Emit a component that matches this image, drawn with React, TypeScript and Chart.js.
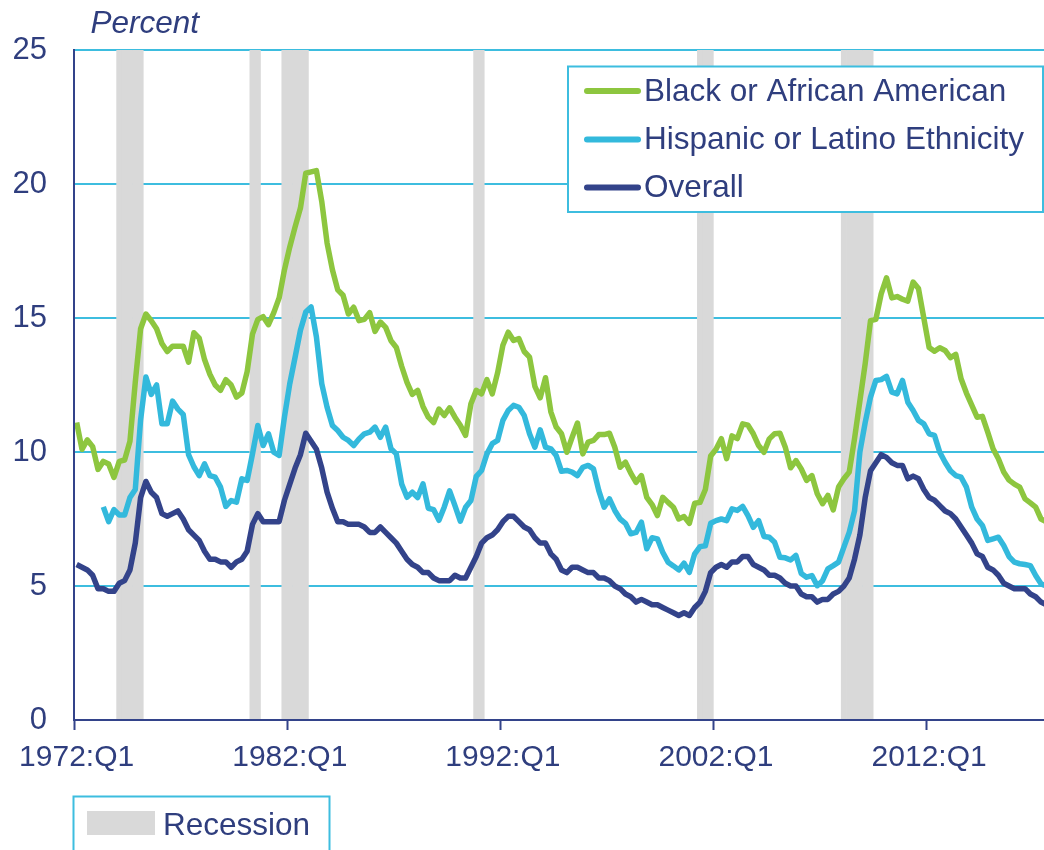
import React, { useEffect, useRef } from 'react';
import { Chart, registerables } from 'chart.js';

Chart.register(...registerables);

// ---------- data ----------
const startYear = 1972;
const quarterCount = 183; // 1972:Q1 .. 2017:Q3
const quarters: string[] = [];
for (let i = 0; i < quarterCount; i++) {
  quarters.push(`${startYear + Math.floor(i / 4)}:Q${(i % 4) + 1}`);
}

const xTickLabels = ['1972:Q1', '1982:Q1', '1992:Q1', '2002:Q1', '2012:Q1'];

const seriesNames = ['Black or African American', 'Hispanic or Latino Ethnicity', 'Overall'];

const black = [
  11.1, 10.1, 10.45, 10.2, 9.35, 9.65, 9.55, 9.05, 9.65, 9.7,
  10.4, 12.6, 14.6, 15.15, 14.9, 14.6, 14.05, 13.75, 13.95, 13.95,
  13.95, 13.35, 14.45, 14.25, 13.45, 12.9, 12.5, 12.3, 12.7, 12.5,
  12.05, 12.2, 13.0, 14.4, 14.95, 15.05, 14.75, 15.2, 15.75, 16.8,
  17.65, 18.4, 19.1, 20.4, 20.45, 20.5, 19.35, 17.8, 16.8, 16.05,
  15.85, 15.15, 15.4, 14.9, 14.95, 15.2, 14.5, 14.85, 14.65, 14.15,
  13.9, 13.2, 12.6, 12.15, 12.3, 11.7, 11.3, 11.1, 11.6, 11.36,
  11.65, 11.3, 11.0, 10.62, 11.8, 12.3, 12.17, 12.7, 12.17, 12.95,
  13.98, 14.47, 14.16, 14.23, 13.75, 13.54, 12.45, 12.02, 12.77, 11.5,
  10.93, 10.68, 9.99, 10.55, 11.08, 9.93, 10.37, 10.43, 10.65, 10.65,
  10.7, 10.18, 9.43, 9.62, 9.21, 8.87, 9.12, 8.31, 8.04, 7.63,
  8.31, 8.12, 7.94, 7.5, 7.59, 7.34, 8.09, 8.12, 8.6, 9.85,
  10.1, 10.5, 9.75, 10.6, 10.5, 11.05, 11.0, 10.68, 10.24, 9.99,
  10.49, 10.68, 10.7, 10.18, 9.41, 9.68, 9.37, 8.94, 9.12, 8.44,
  8.07, 8.38, 7.84, 8.69, 9.0, 9.25, 10.5, 11.9, 13.3, 14.9,
  14.95, 15.9, 16.5, 15.75, 15.8, 15.7, 15.63, 16.34, 16.1, 15.0,
  13.9, 13.76, 13.89, 13.79, 13.52, 13.64, 12.73, 12.2, 11.75, 11.3,
  11.33, 10.74, 10.12, 9.75, 9.25, 8.95, 8.8, 8.69, 8.25, 8.1,
  7.94, 7.5, 7.4,
];

const hispanic = [
  null, null, null, null, null, 7.95, 7.4, 7.85, 7.65, 7.65,
  8.3, 8.6, 11.2, 12.8, 12.15, 12.5, 11.05, 11.05, 11.9, 11.6,
  11.4, 9.9, 9.45, 9.12, 9.56, 9.12, 9.06, 8.69, 7.97, 8.19,
  8.13, 9.0, 8.94, 9.93, 10.99, 10.24, 10.68, 9.99, 9.87, 11.3,
  12.55, 13.54, 14.54, 15.22, 15.41, 14.29, 12.55, 11.67, 10.99, 10.8,
  10.55, 10.43, 10.24, 10.49, 10.68, 10.74, 10.93, 10.55, 10.93, 10.12,
  9.93, 8.81, 8.31, 8.5, 8.3, 8.81, 7.9, 7.85, 7.45, 7.95,
  8.55, 8.0, 7.42, 7.94, 8.19, 9.09, 9.31, 9.93, 10.31, 10.43,
  11.18, 11.55, 11.74, 11.67, 11.36, 10.68, 10.18, 10.83, 10.18, 10.12,
  9.87, 9.28, 9.31, 9.25, 9.12, 9.43, 9.5, 9.37, 8.56, 7.94,
  8.25, 7.82, 7.5, 7.34, 6.95, 7.0, 7.38, 6.39, 6.8, 6.76,
  6.26, 5.89, 5.75, 5.6, 5.85, 5.51, 6.2, 6.47, 6.5, 7.34,
  7.44, 7.5, 7.44, 7.88, 7.82, 7.97, 7.63, 7.19, 7.44, 6.85,
  6.82, 6.63, 6.07, 6.05, 5.97, 6.14, 5.47, 5.33, 5.39, 5.01,
  5.2, 5.64, 5.76, 5.89, 6.45, 7.0, 7.8, 10.0, 11.1, 12.05,
  12.67, 12.7, 12.82, 12.23, 12.17, 12.67, 11.86, 11.55, 11.18, 11.05,
  10.68, 10.62, 9.99, 9.62, 9.3, 9.12, 9.06, 8.69, 7.94, 7.5,
  7.26, 6.7, 6.76, 6.82, 6.51, 6.1, 5.89, 5.83, 5.8, 5.76,
  5.39, 5.08, 5.0,
];

const overall = [
  5.8, 5.7, 5.6, 5.4, 4.9, 4.9, 4.8, 4.8, 5.1, 5.2,
  5.6, 6.6, 8.3, 8.9, 8.5, 8.3, 7.7, 7.6, 7.7, 7.8,
  7.5, 7.1, 6.9, 6.7, 6.3, 6.0, 6.0, 5.9, 5.9, 5.7,
  5.9, 6.0, 6.3, 7.3, 7.7, 7.4, 7.4, 7.4, 7.4, 8.2,
  8.8, 9.4, 9.9, 10.7, 10.4, 10.1, 9.4, 8.5, 7.9, 7.4,
  7.4, 7.3, 7.3, 7.3, 7.2, 7.0, 7.0, 7.2, 7.0, 6.8,
  6.6, 6.3, 6.0, 5.8, 5.7, 5.5, 5.5, 5.3, 5.2, 5.2,
  5.2, 5.4, 5.3, 5.3, 5.7, 6.1, 6.6, 6.8, 6.9, 7.1,
  7.4, 7.6, 7.6, 7.4, 7.2, 7.1, 6.8, 6.6, 6.6, 6.2,
  6.0, 5.6, 5.5, 5.7, 5.7, 5.6, 5.5, 5.5, 5.3, 5.3,
  5.2, 5.0, 4.9, 4.7, 4.6, 4.4, 4.5, 4.4, 4.3, 4.3,
  4.2, 4.1, 4.0, 3.9, 4.0, 3.9, 4.2, 4.4, 4.8, 5.5,
  5.7, 5.8, 5.7, 5.9, 5.9, 6.1, 6.1, 5.8, 5.7, 5.6,
  5.4, 5.4, 5.3, 5.1, 5.0, 5.0, 4.7, 4.6, 4.6, 4.4,
  4.5, 4.5, 4.7, 4.8, 5.0, 5.3, 6.0, 6.9, 8.3, 9.3,
  9.6, 9.9, 9.8, 9.6, 9.5, 9.5, 9.0, 9.1, 9.0, 8.6,
  8.3, 8.2, 8.0, 7.8, 7.7, 7.5, 7.2, 6.9, 6.6, 6.2,
  6.1, 5.7, 5.6, 5.4, 5.1, 5.0, 4.9, 4.9, 4.9, 4.7,
  4.6, 4.4, 4.3,
];

// recession quarters (first and last shaded quarter)
const recessionStarts = ['1974:Q1', '1980:Q2', '1981:Q4', '1990:Q4', '2001:Q2', '2008:Q1'];
const recessionEnds = ['1975:Q1', '1980:Q3', '1982:Q4', '1991:Q1', '2001:Q4', '2009:Q2'];
const recessionLabel = 'Recession';

const yMin = 0;
const yMax = 25;
const yStep = 5;
const yTitle = 'Percent';

// ---------- styles ----------
const FONT = "'Liberation Sans', Arial, sans-serif";
const TEXT = '#2F3E7E';
const NAVY = '#33438A';
const GREEN = '#8DC63F';
const CYAN = '#33B9DC';
const GRID = '#3DBDDF';
const GRAY = '#D9D9D9';

const recessionBars = quarters.map((q, i) => {
  for (let k = 0; k < recessionStarts.length; k++) {
    const s = quarters.indexOf(recessionStarts[k]);
    const e = quarters.indexOf(recessionEnds[k]);
    if (i >= s && i <= e) return yMax;
  }
  return null;
});

const overlayPlugin = {
  id: 'overlay',
  afterDraw(chart: any) {
    const ctx = chart.ctx as CanvasRenderingContext2D;
    ctx.save();
    // axis title
    ctx.fillStyle = TEXT;
    ctx.font = `italic 31.5px ${FONT}`;
    ctx.textBaseline = 'alphabetic';
    ctx.textAlign = 'left';
    ctx.fillText(yTitle, 90.5, 32.5);

    // series legend
    const lx = 568, ly = 66.5, lw = 475, lh = 145.5;
    ctx.fillStyle = '#ffffff';
    ctx.fillRect(lx, ly, lw, lh);
    ctx.strokeStyle = GRID;
    ctx.lineWidth = 2;
    ctx.strokeRect(lx, ly, lw, lh);
    const lines = chart.data.datasets.filter((d: any) => d.type === 'line');
    const rowsLine = [91, 139.5, 187.5];
    const rowsText = [100.7, 148.7, 196.7];
    lines.forEach((d: any, i: number) => {
      ctx.strokeStyle = d.borderColor;
      ctx.lineWidth = 6;
      ctx.lineCap = 'round';
      ctx.beginPath();
      ctx.moveTo(587, rowsLine[i]);
      ctx.lineTo(638, rowsLine[i]);
      ctx.stroke();
      ctx.fillStyle = TEXT;
      ctx.font = `31.5px ${FONT}`;
      ctx.fillText(d.label, 644, rowsText[i]);
    });

    // recession legend
    ctx.strokeStyle = GRID;
    ctx.lineWidth = 2;
    ctx.strokeRect(73.5, 796.5, 256, 70);
    ctx.fillStyle = GRAY;
    ctx.fillRect(87, 811, 68, 24);
    ctx.fillStyle = TEXT;
    ctx.font = `31.5px ${FONT}`;
    ctx.fillText(recessionLabel, 163, 835);
    ctx.restore();
  },
};

export default function App() {
  const ref = useRef<HTMLCanvasElement>(null);
  useEffect(() => {
    const canvas = ref.current;
    if (!canvas) return;
    const common = {
      type: 'line' as const,
      pointRadius: 0,
      borderWidth: 5.5,
      tension: 0,
      fill: false,
      borderJoinStyle: 'round' as const,
      borderCapStyle: 'butt' as const,
      spanGaps: false,
    };
    const chart = new Chart(canvas, {
      type: 'line',
      data: {
        labels: quarters,
        datasets: [
          { ...common, label: seriesNames[0], data: black, borderColor: GREEN, backgroundColor: GREEN, order: 3 },
          { ...common, label: seriesNames[1], data: hispanic, borderColor: CYAN, backgroundColor: CYAN, order: 2 },
          { ...common, label: seriesNames[2], data: overall, borderColor: NAVY, backgroundColor: NAVY, order: 1 },
          {
            type: 'bar',
            label: recessionLabel,
            data: recessionBars,
            backgroundColor: GRAY,
            borderWidth: 0,
            barPercentage: 1,
            categoryPercentage: 1,
            order: 10,
          } as any,
        ],
      },
      options: {
        responsive: false,
        animation: false,
        devicePixelRatio: 1,
        events: [],
        layout: { padding: { top: 50, left: 0, right: 0, bottom: 0 } },
        plugins: { legend: { display: false }, tooltip: { enabled: false } },
        scales: {
          x: {
            type: 'category',
            offset: true,
            afterFit: (s: any) => { s.height = 130; s.paddingRight = 0; s.paddingLeft = 0; },
            grid: {
              display: true,
              offset: true,
              drawOnChartArea: false,
              drawTicks: true,
              tickLength: 10,
              tickWidth: 2,
              tickColor: (c: any) => (xTickLabels.includes(quarters[c.index]) ? NAVY : 'rgba(0,0,0,0)'),
            },
            border: { display: true, color: NAVY, width: 2, z: 1 },
            ticks: {
              autoSkip: false,
              maxRotation: 0,
              minRotation: 0,
              padding: 10,
              color: TEXT,
              font: { family: FONT, size: 30 },
              callback: (v: any, i: number) => (xTickLabels.includes(quarters[i]) ? quarters[i] : ''),
            },
          },
          y: {
            min: yMin,
            max: yMax,
            afterFit: (s: any) => { s.width = 74; },
            grid: {
              display: true,
              drawTicks: false,
              lineWidth: 2,
              color: (c: any) => (c.tick && c.tick.value === 0 ? 'rgba(0,0,0,0)' : GRID),
            },
            border: { display: true, color: NAVY, width: 2, z: 1 },
            ticks: {
              stepSize: yStep,
              padding: 27,
              color: TEXT,
              font: { family: FONT, size: 31 },
            },
          },
        },
      },
      plugins: [overlayPlugin],
    } as any);
    return () => chart.destroy();
  }, []);

  return (
    <div style={{ position: 'absolute', left: 0, top: 0, width: 1044, height: 850, overflow: 'hidden', background: '#ffffff' }}>
      <canvas ref={ref} width={1049} height={850} style={{ display: 'block' }} />
    </div>
  );
}
